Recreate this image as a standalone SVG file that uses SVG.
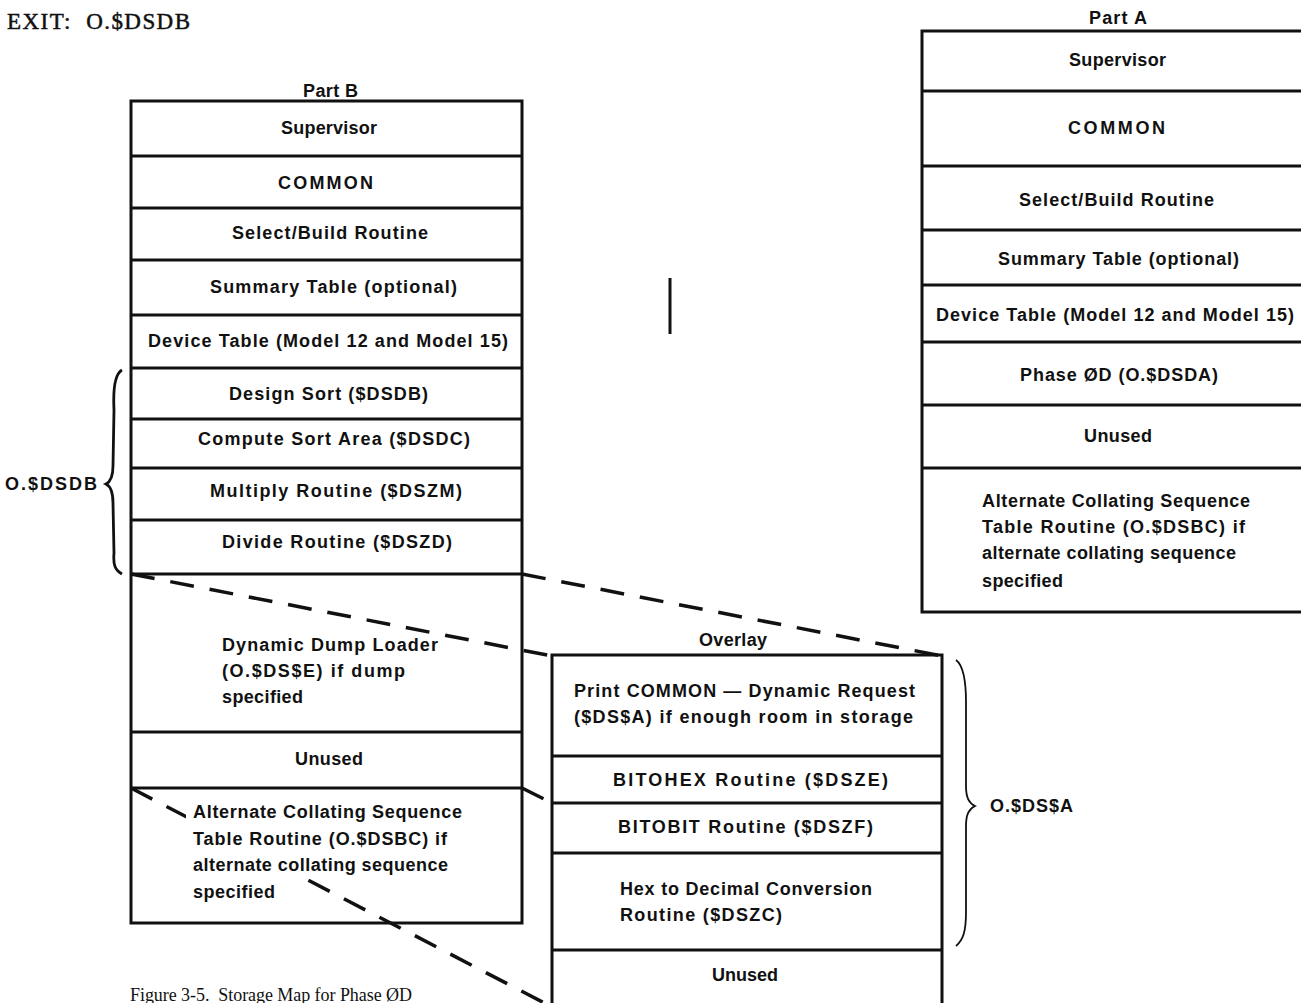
<svg xmlns="http://www.w3.org/2000/svg" width="1301" height="1003" viewBox="0 0 1301 1003">
  <defs>
    <style>
      .box { fill: none; stroke: #111; stroke-width: 3; }
      .sep { stroke: #111; stroke-width: 3; }
      .lbl { font-family: "Liberation Sans", Arial, sans-serif; font-size: 18px; font-weight: bold; fill: #111; }
      .serif { font-family: "Liberation Serif", "Times New Roman", serif; fill: #111; }
      .dash { fill: none; stroke: #111; stroke-width: 3.5; stroke-dasharray: 24 16; }
      .brace { fill: none; stroke: #111; }
      .knock { fill: #fff; }
    </style>
  </defs>
  <rect width="1301" height="1003" fill="#fff"/>

  <!-- heading and caption -->
  <text class="serif" x="7" y="29" font-size="23" stroke="#111" stroke-width="0.5" xml:space="preserve" textLength="183" lengthAdjust="spacing">EXIT:  O.$DSDB</text>
  <text class="serif" x="130" y="1001" font-size="18" xml:space="preserve" textLength="282" lengthAdjust="spacing">Figure 3-5.  Storage Map for Phase ØD</text>

  <!-- dashed projection lines between the stacks (drawn under the stacks) -->
  <g id="connectors">
    <line class="dash" x1="131" y1="574" x2="552" y2="656"/>
    <line class="dash" x1="522" y1="574" x2="942" y2="656"/>
    <line class="dash" x1="131" y1="788" x2="552" y2="1007"/>
    <line class="dash" stroke-dasharray="16 6" x1="522" y1="788" x2="552" y2="803"/>
  </g>

  <!-- Part B storage stack -->
  <g id="part-b">
    <text class="lbl" x="303" y="97" textLength="55" lengthAdjust="spacing">Part B</text>
    <rect class="box" x="131" y="101" width="391" height="822"/>
    <g id="b-supervisor"><text class="lbl" x="281" y="134" textLength="96" lengthAdjust="spacing">Supervisor</text></g>
    <g id="b-common"><line class="sep" x1="131" y1="156" x2="522" y2="156"/><text class="lbl" x="278" y="189" textLength="95" lengthAdjust="spacing">COMMON</text></g>
    <g id="b-select"><line class="sep" x1="131" y1="208" x2="522" y2="208"/><text class="lbl" x="232" y="239" textLength="196" lengthAdjust="spacing">Select/Build Routine</text></g>
    <g id="b-summary"><line class="sep" x1="131" y1="260" x2="522" y2="260"/><text class="lbl" x="210" y="293" textLength="247" lengthAdjust="spacing">Summary Table (optional)</text></g>
    <g id="b-device"><line class="sep" x1="131" y1="315" x2="522" y2="315"/><text class="lbl" x="148" y="347" textLength="360" lengthAdjust="spacing">Device Table (Model 12 and Model 15)</text></g>
    <g id="b-design"><line class="sep" x1="131" y1="368" x2="522" y2="368"/><text class="lbl" x="229" y="400" textLength="199" lengthAdjust="spacing">Design Sort ($DSDB)</text></g>
    <g id="b-compute"><line class="sep" x1="131" y1="419" x2="522" y2="419"/><text class="lbl" x="198" y="445" textLength="272" lengthAdjust="spacing">Compute Sort Area ($DSDC)</text></g>
    <g id="b-multiply"><line class="sep" x1="131" y1="468" x2="522" y2="468"/><text class="lbl" x="210" y="497" textLength="252" lengthAdjust="spacing">Multiply Routine ($DSZM)</text></g>
    <g id="b-divide"><line class="sep" x1="131" y1="520" x2="522" y2="520"/><text class="lbl" x="222" y="548" textLength="230" lengthAdjust="spacing">Divide Routine ($DSZD)</text></g>
    <g id="b-dump"><line class="sep" x1="131" y1="574" x2="522" y2="574"/>
      <text class="lbl" x="222" y="651" textLength="216" lengthAdjust="spacing">Dynamic Dump Loader</text>
      <text class="lbl" x="222" y="677" textLength="183" lengthAdjust="spacing">(O.$DS$E) if dump</text>
      <text class="lbl" x="222" y="703" textLength="81" lengthAdjust="spacing">specified</text>
    </g>
    <g id="b-unused"><line class="sep" x1="131" y1="732" x2="522" y2="732"/><text class="lbl" x="295" y="765" textLength="68" lengthAdjust="spacing">Unused</text></g>
    <g id="b-altseq"><line class="sep" x1="131" y1="788" x2="522" y2="788"/>
      <!-- clear the dashed line behind the text block -->
      <path class="knock" d="M186 800 H466 V879 H284 V904 H186 Z"/>
      <text class="lbl" x="193" y="818" textLength="269" lengthAdjust="spacing">Alternate Collating Sequence</text>
      <text class="lbl" x="193" y="845" textLength="254" lengthAdjust="spacing">Table Routine (O.$DSBC) if</text>
      <text class="lbl" x="193" y="871" textLength="255" lengthAdjust="spacing">alternate collating sequence</text>
      <text class="lbl" x="193" y="898" textLength="82" lengthAdjust="spacing">specified</text>
    </g>
  </g>

  <!-- brace grouping the O.$DSDB phase -->
  <g id="brace-dsdb">
    <path class="brace" stroke-width="2.8" d="M122 370 C115 374 113 390 114 410 L113 466 C113 478 110 482 106 484 C110 486 113 491 113 503 L114 553 C113 565 115 570 122 574"/>
    <text class="lbl" x="5" y="490" textLength="92" lengthAdjust="spacing">O.$DSDB</text>
  </g>

  <!-- short vertical bar -->
  <line x1="670" y1="278" x2="670" y2="334" stroke="#111" stroke-width="3"/>

  <!-- Part A storage stack -->
  <g id="part-a">
    <text class="lbl" x="1089" y="24" textLength="58" lengthAdjust="spacing">Part A</text>
    <rect class="box" x="922" y="31" width="384" height="581"/>
    <g id="a-supervisor"><text class="lbl" x="1069" y="66" textLength="97" lengthAdjust="spacing">Supervisor</text></g>
    <g id="a-common"><line class="sep" x1="922" y1="91" x2="1301" y2="91"/><text class="lbl" x="1068" y="134" textLength="97" lengthAdjust="spacing">COMMON</text></g>
    <g id="a-select"><line class="sep" x1="922" y1="166" x2="1301" y2="166"/><text class="lbl" x="1019" y="206" textLength="195" lengthAdjust="spacing">Select/Build Routine</text></g>
    <g id="a-summary"><line class="sep" x1="922" y1="230" x2="1301" y2="230"/><text class="lbl" x="998" y="265" textLength="241" lengthAdjust="spacing">Summary Table (optional)</text></g>
    <g id="a-device"><line class="sep" x1="922" y1="285" x2="1301" y2="285"/><text class="lbl" x="936" y="321" textLength="358" lengthAdjust="spacing">Device Table (Model 12 and Model 15)</text></g>
    <g id="a-phase"><line class="sep" x1="922" y1="342" x2="1301" y2="342"/><text class="lbl" x="1020" y="381" textLength="198" lengthAdjust="spacing">Phase ØD (O.$DSDA)</text></g>
    <g id="a-unused"><line class="sep" x1="922" y1="405" x2="1301" y2="405"/><text class="lbl" x="1084" y="442" textLength="68" lengthAdjust="spacing">Unused</text></g>
    <g id="a-altseq"><line class="sep" x1="922" y1="468" x2="1301" y2="468"/>
      <text class="lbl" x="982" y="507" textLength="268" lengthAdjust="spacing">Alternate Collating Sequence</text>
      <text class="lbl" x="982" y="533" textLength="263" lengthAdjust="spacing">Table Routine (O.$DSBC) if</text>
      <text class="lbl" x="982" y="559" textLength="254" lengthAdjust="spacing">alternate collating sequence</text>
      <text class="lbl" x="982" y="587" textLength="81" lengthAdjust="spacing">specified</text>
    </g>
  </g>

  <!-- Overlay storage stack -->
  <g id="overlay">
    <text class="lbl" x="699" y="646" textLength="68" lengthAdjust="spacing">Overlay</text>
    <rect class="box" x="552" y="655" width="390" height="360"/>
    <g id="o-print">
      <text class="lbl" x="574" y="697" textLength="341" lengthAdjust="spacing">Print COMMON — Dynamic Request</text>
      <text class="lbl" x="574" y="723" textLength="339" lengthAdjust="spacing">($DS$A) if enough room in storage</text>
    </g>
    <g id="o-bitohex"><line class="sep" x1="552" y1="756" x2="942" y2="756"/><text class="lbl" x="613" y="786" textLength="275" lengthAdjust="spacing">BITOHEX Routine ($DSZE)</text></g>
    <g id="o-bitobit"><line class="sep" x1="552" y1="803" x2="942" y2="803"/><text class="lbl" x="618" y="833" textLength="255" lengthAdjust="spacing">BITOBIT Routine ($DSZF)</text></g>
    <g id="o-hexdec"><line class="sep" x1="552" y1="853" x2="942" y2="853"/>
      <text class="lbl" x="620" y="895" textLength="252" lengthAdjust="spacing">Hex to Decimal Conversion</text>
      <text class="lbl" x="620" y="921" textLength="162" lengthAdjust="spacing">Routine ($DSZC)</text>
    </g>
    <g id="o-unused"><line class="sep" x1="552" y1="950" x2="942" y2="950"/><text class="lbl" x="712" y="981" textLength="66" lengthAdjust="spacing">Unused</text></g>
  </g>

  <!-- brace grouping the O.$DS$A overlay -->
  <g id="brace-dsa">
    <path class="brace" stroke-width="1.8" d="M956 660 C964 666 966 682 966 702 L966 786 C966 798 969 803 975 806 C969 809 966 814 966 826 L966 912 C966 932 963 940 956 946"/>
    <text class="lbl" x="990" y="812" textLength="83" lengthAdjust="spacing">O.$DS$A</text>
  </g>
</svg>
